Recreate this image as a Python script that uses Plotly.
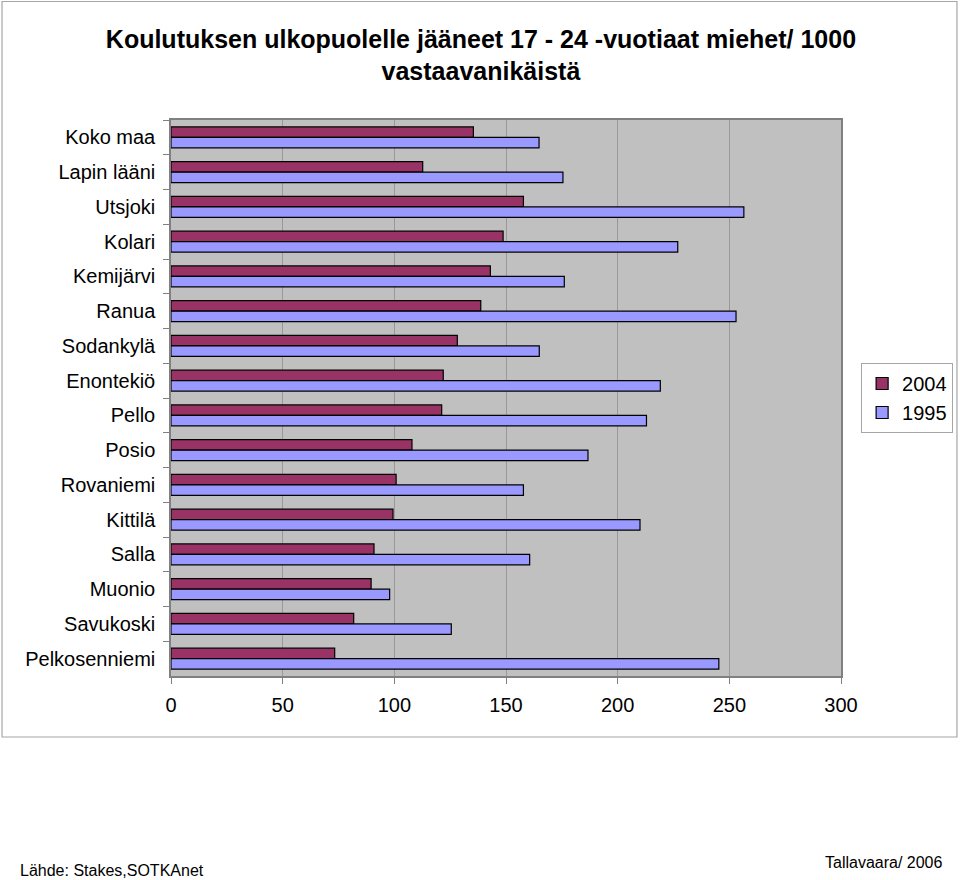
import plotly.graph_objects as go

# ---------- data ----------
municipalities = [
    "Koko maa", "Lapin lääni", "Utsjoki", "Kolari", "Kemijärvi", "Ranua",
    "Sodankylä", "Enontekiö", "Pello", "Posio", "Rovaniemi", "Kittilä",
    "Salla", "Muonio", "Savukoski", "Pelkosenniemi",
]
values_2004 = [135.4, 112.7, 157.8, 148.7, 143.0, 138.7, 128.2, 121.9,
               121.2, 107.9, 100.8, 99.4, 90.9, 89.6, 81.8, 73.3]
values_1995 = [164.8, 175.5, 256.5, 226.9, 176.1, 253.0, 164.9, 219.1,
               212.9, 186.7, 157.8, 210.0, 160.6, 97.9, 125.5, 245.3]
x_ticks = [0, 50, 100, 150, 200, 250, 300]

FONT = "Liberation Sans, Arial, sans-serif"

fig = go.Figure()
fig.add_trace(go.Bar(
    y=municipalities, x=values_2004, name="2004", orientation="h",
    marker=dict(color="#993366", line=dict(color="#000000", width=1.2)),
))
fig.add_trace(go.Bar(
    y=municipalities, x=values_1995, name="1995", orientation="h",
    marker=dict(color="#9999FF", line=dict(color="#000000", width=1.2)),
))

# outer chart frame
fig.add_shape(
    type="rect", xref="paper", yref="paper",
    x0=-0.2522, x1=1.1731, y0=-0.1097, y1=1.2131,
    line=dict(color="#a6a6a6", width=1.2), fillcolor="rgba(0,0,0,0)",
    layer="below",
)

fig.add_annotation(
    text="Lähde: Stakes,SOTKAnet", xref="paper", yref="paper",
    x=-0.2284, y=-0.349, xanchor="left", yanchor="middle", showarrow=False,
    font=dict(family=FONT, size=16, color="#000000"),
)
fig.add_annotation(
    text="Tallavaara/ 2006", xref="paper", yref="paper",
    x=1.155, y=-0.335, xanchor="right", yanchor="middle", showarrow=False,
    font=dict(family=FONT, size=16, color="#000000"),
)

fig.update_layout(
    width=960, height=880,
    autosize=False,
    margin=dict(l=171, r=119, t=120, b=204, autoexpand=False),
    paper_bgcolor="white",
    plot_bgcolor="#C0C0C0",
    barmode="group",
    bargap=0.4,
    bargroupgap=0,
    title=dict(
        text="<b>Koulutuksen ulkopuolelle jääneet 17 - 24 -vuotiaat miehet/ 1000<br>vastaavanikäistä</b>",
        x=0.501, xref="container", xanchor="center",
        y=0.9455, yref="container", yanchor="middle",
        font=dict(family=FONT, size=25, color="#000000"),
    ),
    font=dict(family=FONT, size=20, color="#000000"),
    legend=dict(
        xref="container", yref="container",
        x=0.897, y=0.5875, xanchor="left", yanchor="top",
        bordercolor="#a6a6a6", borderwidth=1, bgcolor="white",
        font=dict(family=FONT, size=20),
        traceorder="normal",
        itemwidth=30,
        tracegroupgap=2,
    ),
    showlegend=True,
)

fig.update_xaxes(
    range=[0, 300], tickvals=x_ticks,
    showgrid=True, gridcolor="#999999", gridwidth=1,
    showline=True, linecolor="#808080", linewidth=1.5, mirror=True,
    ticks="outside", ticklen=6, tickcolor="#808080",
    ticklabelstandoff=4,
    zeroline=False, tickfont=dict(size=20),
)
fig.update_yaxes(
    autorange="reversed",
    showline=True, linecolor="#808080", linewidth=1.5, mirror=True,
    ticks="outside", ticklen=6, tickcolor="#808080", tickson="boundaries",
    ticklabelstandoff=10,
    showgrid=False, tickfont=dict(size=20),
)

post = (
    "document.body.style.margin='0';"
    "document.body.style.overflow='hidden';"
    "var gd=document.getElementById('{plot_id}');"
    "gd.style.width='960px';gd.style.height='880px';"
    "Plotly.relayout(gd,{width:960,height:880});"
)

fig.write_html(
    "out.html",
    config={"responsive": False, "displayModeBar": False},
    post_script=post,
)
